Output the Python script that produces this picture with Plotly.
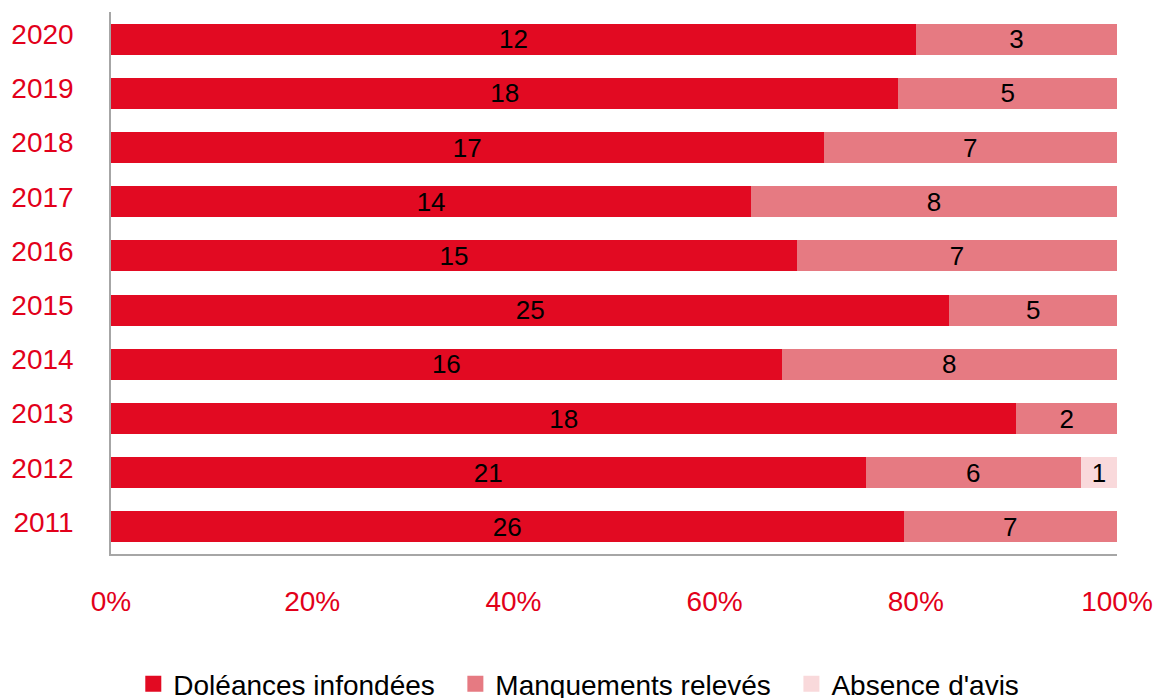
import plotly.graph_objects as go

years = ["2011", "2012", "2013", "2014", "2015", "2016", "2017", "2018", "2019", "2020"]
doleances = [26, 21, 18, 16, 25, 15, 14, 17, 18, 12]
manquements = [7, 6, 2, 8, 5, 7, 8, 7, 5, 3]
absence = [0, 1, 0, 0, 0, 0, 0, 0, 0, 0]

series = [
    ("Doléances infondées", doleances, "#E20A22"),
    ("Manquements relevés", manquements, "#E67A82"),
    ("Absence d'avis", absence, "#F9D9DB"),
]

FONT = "Liberation Sans, Arial, sans-serif"

fig = go.Figure()
for name, vals, col in series:
    fig.add_trace(go.Bar(
        y=years, x=vals, name=name, orientation="h",
        marker=dict(color=col, line=dict(width=0)),
        text=[str(v) if v else "" for v in vals],
        textposition="inside", insidetextanchor="middle", textangle=0,
        textfont=dict(color="black", size=26, family=FONT),
        constraintext="none", showlegend=False,
    ))
# legend entries with larger square swatches
for i, (name, vals, col) in enumerate(series):
    label = name + ("\u00a0\u00a0" if i < len(series) - 1 else "")
    fig.add_trace(go.Scatter(
        x=[None], y=[None], mode="markers", name=label,
        marker=dict(symbol="square", size=21, color=col),
        showlegend=True,
    ))

fig.update_layout(
    barmode="stack", barnorm="percent", bargap=0.43,
    width=1158, height=698,
    margin=dict(l=111, r=41, t=12, b=144, autoexpand=False),
    plot_bgcolor="white", paper_bgcolor="white",
    font=dict(family=FONT, size=26, color="black"),
    legend=dict(orientation="h", xref="paper", x=0.465, xanchor="center",
                yref="paper", y=-0.240, yanchor="middle",
                font=dict(size=28, color="black"), itemwidth=30,
                traceorder="normal"),
    showlegend=True,
)
fig.update_xaxes(range=[0, 100], tickvals=[0, 20, 40, 60, 80, 100],
                 ticktext=["0%", "20%", "40%", "60%", "80%", "100%"],
                 showgrid=False, zeroline=False, showline=True, linecolor="#A6A6A6",
                 linewidth=1.5, ticks="", tickfont=dict(color="#E2001A", size=28),
                 tickangle=0, ticklabelstandoff=22, automargin=False)
fig.update_yaxes(showgrid=False, zeroline=False, showline=True, linecolor="#A6A6A6",
                 linewidth=1.5, ticks="", tickfont=dict(color="#E2001A", size=28),
                 ticklabelstandoff=30, ticklabelshift=-5, automargin=False)

fig.write_html("out.html")
